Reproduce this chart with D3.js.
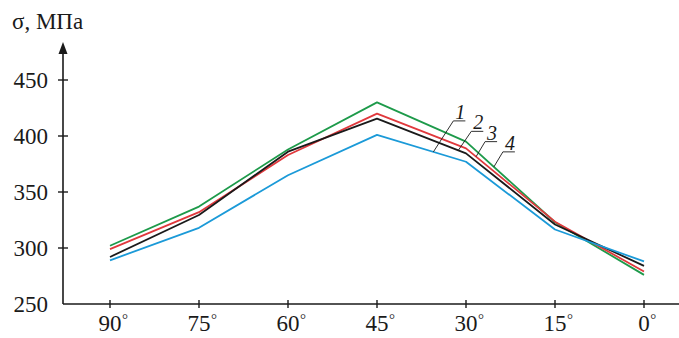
<!DOCTYPE html>
<html>
<head>
<meta charset="utf-8">
<script src="https://cdn.jsdelivr.net/npm/d3@7"></script>
<style>
  body { margin: 0; background: #fff; }
  svg text { font-family: "Liberation Serif", "Times New Roman", "DejaVu Serif", serif; }
</style>
</head>
<body>
<svg width="679" height="338"></svg>
<script>
const angles = [90, 75, 60, 45, 30, 15, 0];
const yTicks = [250, 300, 350, 400, 450];

// curves 1..4
const curve1 = [289, 318, 365, 401, 377, 316.5, 288];   // blue
const curve2 = [292, 329.5, 386, 415.5, 384.5, 321, 284]; // black
const curve3 = [299, 332, 383, 420, 389, 323.5, 279];   // red
const curve4 = [302, 337, 388, 430, 395, 323, 276];     // green

const seriesNames = ["1", "2", "3", "4"];
const seriesValues = [curve1, curve2, curve3, curve4];
const seriesColors = ["#1b9ad8", "#1a1a1a", "#e0383c", "#1d9a4a"];
// angle where each label's leader touches its curve
const leaderAngles = [35.5, 31.3, 28.3, 25.3];

const svg = d3.select('svg');
const serif = '"Liberation Serif", "Times New Roman", serif';

let x = d3.scaleLinear().domain([90, 0]).range([110, 644]);
let y = d3.scaleLinear().domain([250, 450]).range([304, 80]);
const axisX = 63;

// interpolate a curve at an arbitrary angle
function valueAt(vals, a) {
  for (let i = 0; i < angles.length - 1; i++) {
    if (a <= angles[i] && a >= angles[i + 1]) {
      let t = (angles[i] - a) / (angles[i] - angles[i + 1]);
      return vals[i] + t * (vals[i + 1] - vals[i]);
    }
  }
  return vals[vals.length - 1];
}

// lines
let line = d3.line().x((d, i) => x(angles[i])).y(d => y(d));
// draw green first so blue/black sit on top like the original
[3, 2, 1, 0].forEach(k => {
  svg.append('path')
    .attr('d', line(seriesValues[k]))
    .attr('fill', 'none')
    .attr('stroke', seriesColors[k])
    .attr('stroke-width', 1.8)
    .attr('stroke-linejoin', 'round');
});

// y axis with arrow
svg.append('line')
  .attr('x1', axisX).attr('y1', y(250))
  .attr('x2', axisX).attr('y2', 50)
  .attr('stroke', '#1a1a1a').attr('stroke-width', 1.6);
svg.append('path')
  .attr('d', `M${axisX},42 L${axisX - 4.5},54 L${axisX + 4.5},54 Z`)
  .attr('fill', '#1a1a1a');

// x axis
svg.append('line')
  .attr('x1', axisX).attr('y1', y(250))
  .attr('x2', 679).attr('y2', y(250))
  .attr('stroke', '#1a1a1a').attr('stroke-width', 1.6);

// y ticks
yTicks.forEach(v => {
  if (v > 250) {
    svg.append('line')
      .attr('x1', axisX - 5).attr('x2', axisX + 5)
      .attr('y1', y(v)).attr('y2', y(v))
      .attr('stroke', '#1a1a1a').attr('stroke-width', 1.4);
  }
  svg.append('text')
    .attr('x', 48).attr('y', y(v) + 8)
    .attr('text-anchor', 'end')
    .attr('font-family', serif)
    .attr('font-size', 23)
    .attr('fill', '#1a1a1a')
    .text(v);
});

// x ticks with degree labels
angles.forEach(a => {
  svg.append('line')
    .attr('x1', x(a)).attr('x2', x(a))
    .attr('y1', y(250) - 4).attr('y2', y(250) + 4)
    .attr('stroke', '#1a1a1a').attr('stroke-width', 1.4);
  let t = svg.append('text')
    .attr('x', x(a)).attr('y', 331)
    .attr('text-anchor', 'middle')
    .attr('font-family', serif)
    .attr('font-size', 23)
    .attr('fill', '#1a1a1a')
    .text(a);
  let w = t.node().getComputedTextLength();
  svg.append('text')
    .attr('x', x(a) + w / 2 + 0.5).attr('y', 324)
    .attr('font-family', serif)
    .attr('font-size', 15)
    .attr('fill', '#1a1a1a')
    .text('°');
});

// axis title
svg.append('text')
  .attr('x', 12).attr('y', 29)
  .attr('font-family', serif)
  .attr('font-size', 23)
  .attr('fill', '#1a1a1a')
  .text('σ, МПа');

// curve labels with leader lines
const leaderDx = [20, 13, 9, 9];
const leaderDy = [-31, -19, -15, -15];
seriesNames.forEach((name, k) => {
  let a = leaderAngles[k];
  let px = x(a), py = y(valueAt(seriesValues[k], a));
  let ex = px + leaderDx[k], ey = py + leaderDy[k];
  svg.append('path')
    .attr('d', `M${px},${py} L${ex},${ey} L${ex + 12},${ey}`)
    .attr('fill', 'none')
    .attr('stroke', '#1a1a1a')
    .attr('stroke-width', 0.9);
  svg.append('text')
    .attr('x', ex + 7).attr('y', ey - 2)
    .attr('text-anchor', 'middle')
    .attr('font-family', serif)
    .attr('font-size', 20)
    .attr('font-style', 'italic')
    .attr('fill', '#1a1a1a')
    .text(name);
});
</script>
</body>
</html>
